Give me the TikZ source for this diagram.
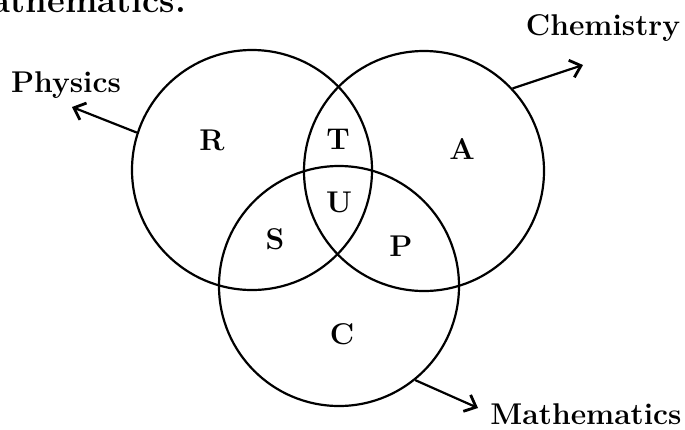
\documentclass[tikz,border=0pt]{standalone}
\usetikzlibrary{arrows.meta}
\begin{document}
\begin{tikzpicture}[x=0.5pt,y=-0.5pt,
    set/.style={circle,draw,line width=1.1pt,minimum size=120pt,inner sep=0pt},
    lbl/.style={font=\fontsize{15}{18}\selectfont\bfseries},
    pointer/.style={line width=1.1pt,-{Straight Barb[length=5pt,width=9pt,line width=1.4pt]}}]
    \useasboundingbox (0,0) rectangle (685,429);
    % cut-off line of the text above the figure
    \node[font=\LARGE\bfseries,anchor=base east] (head) at (193,12) {Mathematics.};
    \node[set] (phys) at (252,170) {};
    \node[set] (chem) at (424,171) {};
    \node[set] (math) at (339,286) {};
    \coordinate (physend) at (72,107);
    \coordinate (chemend) at (583,65);
    \coordinate (mathend) at (478,408);
    \draw[pointer] (phys.162) -- (physend);
    \draw[pointer] (chem.43) -- (chemend);
    \draw[pointer] (math.-51) -- (mathend);
    \node[lbl] (physlbl) at (66,85) {Physics};
    \node[lbl] (chemlbl) at (603,28) {Chemistry};
    \node[lbl] (mathlbl) at (586,414) {Mathematics};
    \node[lbl] (R) at (212,140) {R};
    \node[lbl] (T) at (338,139) {T};
    \node[lbl] (A) at (462,149) {A};
    \node[lbl] (U) at (339,202) {U};
    \node[lbl] (S) at (275,239) {S};
    \node[lbl] (P) at (401,246) {P};
    \node[lbl] (C) at (342,334) {C};
\end{tikzpicture}
\end{document}
